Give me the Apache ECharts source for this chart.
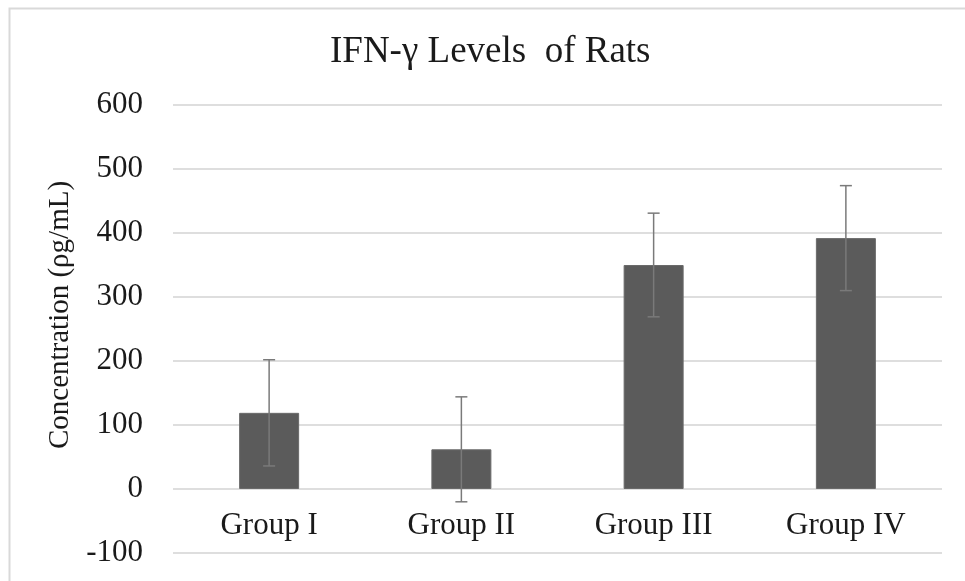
<!DOCTYPE html>
<html>
<head>
<meta charset="utf-8">
<script src="https://cdn.jsdelivr.net/npm/echarts@6/dist/echarts.min.js"></script>
<style>html,body{margin:0;padding:0;background:#fff;}#c{width:965px;height:581px;}</style>
</head>
<body>
<div id="c"></div>
<script>
var categories = ['Group I', 'Group II', 'Group III', 'Group IV'];
var means = [119, 62, 350, 392];
var errors = [83, 82, 81, 82];
var yMin = -100, yMax = 600, yStep = 100;
var FONT = "'Liberation Serif', 'Times New Roman', serif";

var chart = echarts.init(document.getElementById('c'));
chart.setOption({
  animation: false,
  backgroundColor: '#fff',
  graphic: [{
    type: 'rect', left: 7, top: 6, z: -1, silent: true,
    shape: { width: 980, height: 600 },
    style: { fill: 'none', stroke: '#d9d9d9', lineWidth: 2 }
  }],
  title: {
    text: 'IFN-\u03b3 Levels  of Rats',
    left: 330, top: 34, padding: 0,
    textStyle: { fontFamily: FONT, fontSize: 37, fontWeight: 'normal', color: '#1a1a1a' }
  },
  grid: { left: 173, right: 23, top: 105, bottom: 28, containLabel: false, outerBoundsMode: 'none' },
  xAxis: {
    type: 'category', data: categories,
    offset: -64,
    axisLine: { show: false, onZero: false },
    axisTick: { show: false },
    axisLabel: { fontFamily: FONT, fontSize: 31, color: '#1a1a1a', margin: 21 }
  },
  yAxis: {
    type: 'value', min: yMin, max: yMax, interval: yStep,
    name: 'Concentration (\u03c1g/mL)', nameLocation: 'middle', nameRotate: 90, nameGap: 97,
    nameTextStyle: { fontFamily: FONT, fontSize: 29, color: '#1a1a1a', padding: [0, 0, 0, 28] },
    axisLine: { show: false }, axisTick: { show: false },
    axisLabel: { fontFamily: FONT, fontSize: 31, color: '#1a1a1a', margin: 30 },
    splitLine: { lineStyle: { color: '#dedede', width: 2 } }
  },
  series: [{
    type: 'bar', data: means, barWidth: 60,
    itemStyle: { color: '#5b5b5b', borderColor: '#6a6a6a', borderWidth: 1 }
  }, {
    type: 'custom', z: 10,
    data: means.map(function (m, i) { return [i, m + errors[i], m - errors[i]]; }),
    renderItem: function (params, api) {
      var top = api.coord([api.value(0), api.value(1)]);
      var bot = api.coord([api.value(0), api.value(2)]);
      var hw = 6;
      var st = { stroke: '#7a7a7a', lineWidth: 1.5 };
      return { type: 'group', children: [
        { type: 'line', shape: { x1: top[0], y1: top[1], x2: bot[0], y2: bot[1] }, style: st },
        { type: 'line', shape: { x1: top[0] - hw, y1: top[1], x2: top[0] + hw, y2: top[1] }, style: st },
        { type: 'line', shape: { x1: bot[0] - hw, y1: bot[1], x2: bot[0] + hw, y2: bot[1] }, style: st }
      ]};
    }
  }]
});
</script>
</body>
</html>
